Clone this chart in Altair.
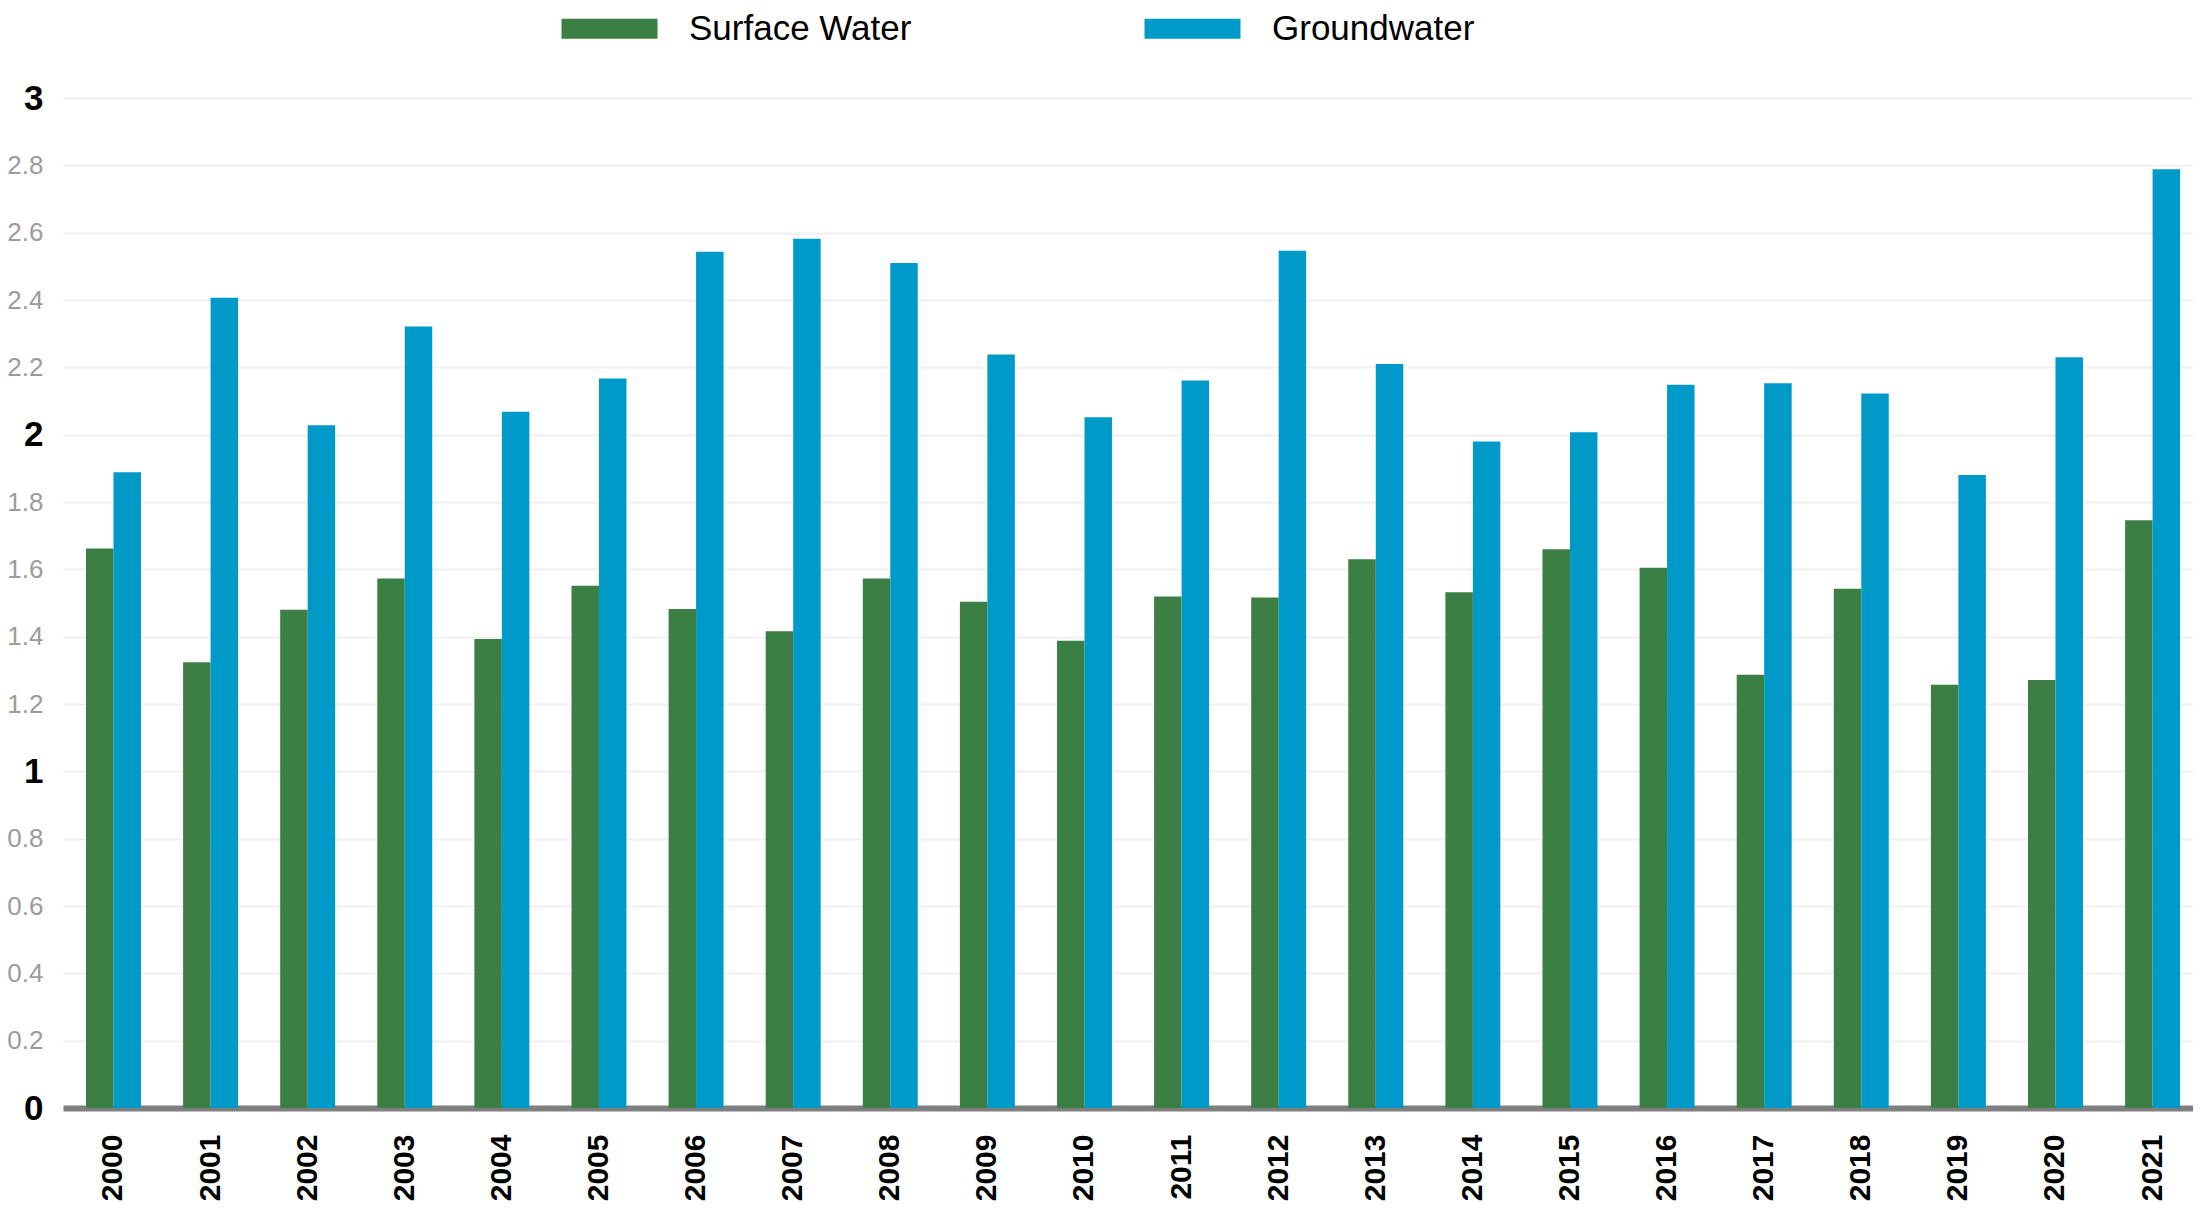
import altair as alt
import pandas as pd

years = [str(y) for y in range(2000, 2022)]
surface = [1.662, 1.324, 1.480, 1.573, 1.393, 1.551, 1.482, 1.416, 1.573, 1.504, 1.388,
           1.519, 1.516, 1.630, 1.532, 1.660, 1.605, 1.287, 1.542, 1.257, 1.271, 1.746]
ground = [1.888, 2.407, 2.028, 2.321, 2.068, 2.167, 2.543, 2.582, 2.510, 2.238, 2.052,
          2.161, 2.546, 2.210, 1.980, 2.007, 2.148, 2.153, 2.122, 1.880, 2.230, 2.788]
series = ["Surface Water", "Groundwater"]
colors = ["#3b7f44", "#009ac8"]
y_ticks = [0, 0.2, 0.4, 0.6, 0.8, 1, 1.2, 1.4, 1.6, 1.8, 2, 2.2, 2.4, 2.6, 2.8, 3]

rows = []
for i, yr in enumerate(years):
    rows.append({"year": yr, "series": series[0], "value": surface[i]})
    rows.append({"year": yr, "series": series[1], "value": ground[i]})
df = pd.DataFrame(rows)

FONT = "Liberation Sans"
is_int = "abs(datum.value - round(datum.value)) < 0.001"

chart = alt.Chart(df).mark_bar().encode(
    x=alt.X(
        "year:N", sort=years,
        scale=alt.Scale(paddingInner=0.434, paddingOuter=0.185, align=0.64),
        axis=alt.Axis(
            title=None, labelAngle=270, labelFont=FONT, labelFontSize=30,
            labelFontWeight="bold", labelColor="#000000", labelPadding=26,
            ticks=False, domainColor="#7f7f7f", domainWidth=6, grid=False,
        ),
    ),
    xOffset=alt.XOffset("series:N", sort=series,
                        scale=alt.Scale(paddingInner=0, paddingOuter=0)),
    y=alt.Y(
        "value:Q",
        scale=alt.Scale(domain=[0, 3], nice=False),
        axis=alt.Axis(
            title=None, values=y_ticks, format="~g", domain=False, ticks=False,
            grid=True, gridColor="#f0f0f0", gridWidth=2, labelPadding=20,
            labelFont=FONT,
            labelFontSize=alt.ExprRef(expr=f"{is_int} ? 35 : 26"),
            labelFontWeight=alt.ExprRef(expr=f"{is_int} ? 'bold' : 'normal'"),
            labelColor=alt.ExprRef(expr=f"{is_int} ? '#000000' : '#9c9c9c'"),
        ),
    ),
    color=alt.Color(
        "series:N", sort=series,
        scale=alt.Scale(domain=series, range=colors),
        legend=alt.Legend(
            title=None, orient="none", legendX=529, legendY=-87,
            direction="horizontal",
            symbolType="M-4,-0.84L4,-0.84L4,0.84L-4,0.84Z",
            symbolSize=576, symbolStrokeWidth=0,
            labelFont=FONT, labelFontSize=35, labelColor="#000000",
            labelLimit=500, labelOffset=62, columnPadding=232, padding=0,
        ),
    ),
).properties(
    width=2130, height=1010, background="white",
    autosize=alt.AutoSizeParams(type="none"),
    padding={"left": 55, "top": 90, "right": 0, "bottom": 97},
).configure_view(stroke=None)

chart.save("out.html", embed_options={"renderer": "svg", "actions": False})
